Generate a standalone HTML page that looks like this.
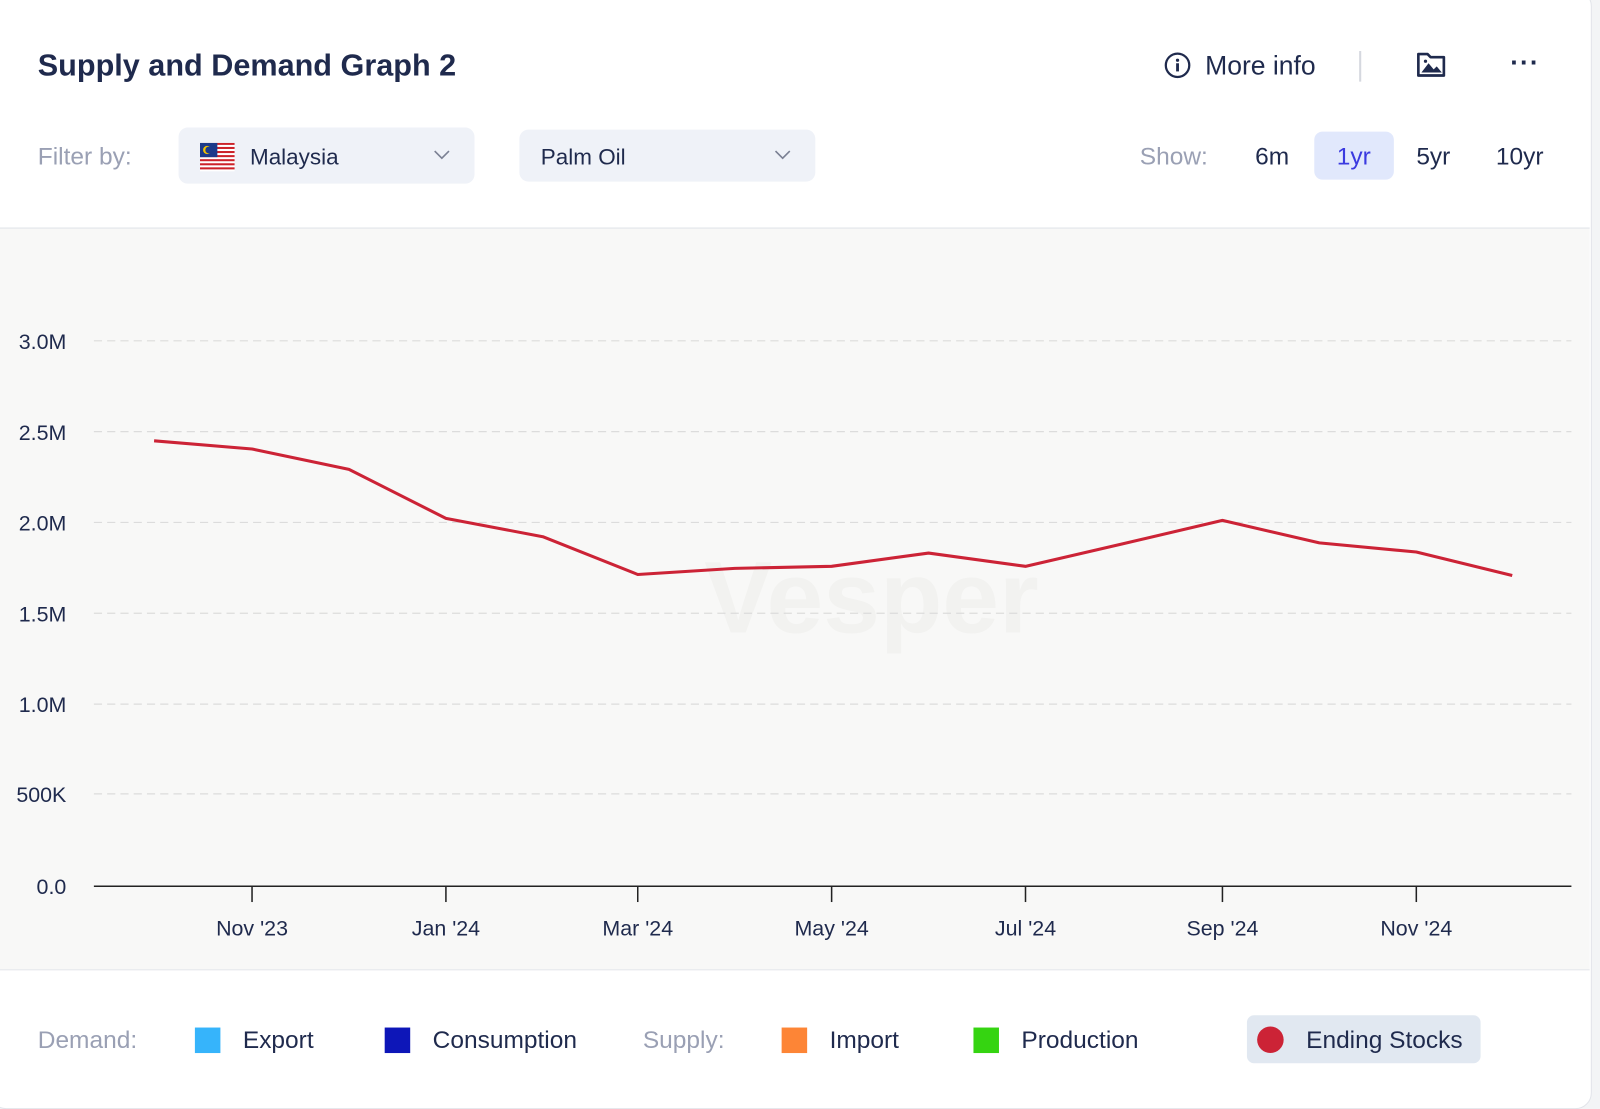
<!DOCTYPE html>
<html><head><meta charset="utf-8"><style>
body{margin:0;width:1600px;height:1108px;background:#f3f4f6;font-family:"Liberation Sans",sans-serif;position:relative;overflow:hidden}
#w{position:absolute;left:0;top:0;width:1568px;height:1086px;transform:scale(1.0204);transform-origin:0 0}
.card{position:absolute;left:-10px;top:-10px;width:1568px;height:1095px;background:#fff;border:1px solid #e2e4ea;border-radius:16px;overflow:hidden}
.t{position:absolute;white-space:nowrap}
</style></head><body><div id="w">
<div class="card"></div>
<div class="t" style="left:37px;top:48px;font-size:30px;font-weight:bold;color:#1f2a4d">Supply and Demand Graph 2</div>
<svg class="t" style="left:1140px;top:50px" width="28" height="28"><circle cx="14" cy="14" r="11.5" fill="none" stroke="#1f2a4d" stroke-width="2.2"/><circle cx="14" cy="9" r="1.6" fill="#1f2a4d"/><rect x="12.6" y="12" width="2.8" height="8" fill="#1f2a4d"/></svg>
<div class="t" style="left:1181px;top:49px;font-size:26px;color:#1f2a4d">More info</div>
<div class="t" style="left:1332px;top:50px;width:2px;height:30px;background:#d5d8df"></div>
<svg class="t" style="left:1387px;top:48px" width="32" height="30"><path d="M3 5h9l3 3h13v18H3z" fill="none" stroke="#1f2a4d" stroke-width="2.6" stroke-linejoin="round"/><path d="M6 23l7-9 5 6 3-3 5 6z" fill="#1f2a4d"/><circle cx="10" cy="12" r="1.6" fill="#1f2a4d"/></svg>
<div class="t" style="left:1480px;top:46px;font-size:26px;color:#1f2a4d;font-weight:bold;letter-spacing:1px">···</div>
<div class="t" style="left:37px;top:140px;font-size:24px;color:#9aa0b4">Filter by:</div>
<div class="t" style="left:175px;top:125px;width:290px;height:55px;background:#eff2f8;border-radius:9px"></div>
<svg class="t" style="left:196px;top:140px" width="34" height="28"><rect width="34" height="28" fill="#fff"/><g fill="#cc2229"><rect y="0" width="34" height="2"/><rect y="4" width="34" height="2"/><rect y="8" width="34" height="2"/><rect y="12" width="34" height="2"/><rect y="16" width="34" height="2"/><rect y="20" width="34" height="2"/><rect y="24" width="34" height="2"/></g><rect width="17" height="14" fill="#1c3a8a"/><circle cx="7" cy="7" r="4" fill="#f2c200"/><circle cx="8.5" cy="7" r="3.3" fill="#1c3a8a"/></svg>
<div class="t" style="left:245px;top:141px;font-size:22px;color:#1f2a4d">Malaysia</div>
<svg class="t" style="left:424px;top:145px" width="18" height="12"><path d="M2 3l7 7 7-7" fill="none" stroke="#7b8194" stroke-width="1.6"/></svg>
<div class="t" style="left:509px;top:127px;width:290px;height:51px;background:#eff2f8;border-radius:9px"></div>
<div class="t" style="left:530px;top:141px;font-size:22px;color:#1f2a4d">Palm Oil</div>
<svg class="t" style="left:758px;top:145px" width="18" height="12"><path d="M2 3l7 7 7-7" fill="none" stroke="#7b8194" stroke-width="1.6"/></svg>
<div class="t" style="left:1117px;top:140px;font-size:24px;color:#9aa0b4">Show:</div>
<div class="t" style="left:1230px;top:140px;font-size:24px;color:#1f2a4d">6m</div>
<div class="t" style="left:1288px;top:129px;width:78px;height:47px;background:#e1e8fc;border-radius:8px"></div>
<div class="t" style="left:1310px;top:140px;font-size:24px;color:#3b3ae0">1yr</div>
<div class="t" style="left:1388px;top:140px;font-size:24px;color:#1f2a4d">5yr</div>
<div class="t" style="left:1466px;top:140px;font-size:24px;color:#1f2a4d">10yr</div>
<svg class="t" style="left:0;top:223px" width="1558" height="728"><rect width="1558" height="728" fill="#f8f8f7"/><line x1="0" y1="0.5" x2="1558" y2="0.5" stroke="#e2e4ea"/><line x1="0" y1="727.5" x2="1558" y2="727.5" stroke="#e2e4ea"/></svg>
<svg class="t" style="left:0;top:0" width="1568" height="1086" font-family="Liberation Sans" font-size="21" fill="#1f2a4d">
<text x="690" y="620" font-size="100" font-weight="bold" fill="#f2f2f0">Vesper</text>
<g stroke="#dcdcdc" stroke-dasharray="8,5" stroke-width="1.2">
<line x1="92" y1="334" x2="1540" y2="334"/><line x1="92" y1="423" x2="1540" y2="423"/><line x1="92" y1="512" x2="1540" y2="512"/><line x1="92" y1="601" x2="1540" y2="601"/><line x1="92" y1="690" x2="1540" y2="690"/><line x1="92" y1="778" x2="1540" y2="778"/></g>
<line x1="92" y1="868.5" x2="1540" y2="868.5" stroke="#222" stroke-width="1.5"/>
<g stroke="#222" stroke-width="1.5"><line x1="247" y1="868" x2="247" y2="884"/><line x1="437" y1="868" x2="437" y2="884"/><line x1="625" y1="868" x2="625" y2="884"/><line x1="815" y1="868" x2="815" y2="884"/><line x1="1005" y1="868" x2="1005" y2="884"/><line x1="1198" y1="868" x2="1198" y2="884"/><line x1="1388" y1="868" x2="1388" y2="884"/></g>
<g text-anchor="end"><text x="65" y="342">3.0M</text><text x="65" y="431">2.5M</text><text x="65" y="520">2.0M</text><text x="65" y="609">1.5M</text><text x="65" y="698">1.0M</text><text x="65" y="786">500K</text><text x="65" y="876">0.0</text></g>
<g text-anchor="middle"><text x="247" y="917">Nov '23</text><text x="437" y="917">Jan '24</text><text x="625" y="917">Mar '24</text><text x="815" y="917">May '24</text><text x="1005" y="917">Jul '24</text><text x="1198" y="917">Sep '24</text><text x="1388" y="917">Nov '24</text></g>
<polyline fill="none" stroke="#cc2336" stroke-width="3" stroke-linejoin="round" points="151,432 247,440 342,460 437,508 532,526 625,563 720,557 815,555 910,542 1005,555 1100,533 1198,510 1293,532 1388,541 1482,564"/>
</svg>
<div class="t" style="left:37px;top:1006px;font-size:24px;color:#9aa0b4">Demand:</div>
<div class="t" style="left:191px;top:1007px;width:25px;height:25px;background:#36b4fb"></div>
<div class="t" style="left:238px;top:1006px;font-size:24px;color:#1f2a4d">Export</div>
<div class="t" style="left:377px;top:1007px;width:25px;height:25px;background:#0d16b8"></div>
<div class="t" style="left:424px;top:1006px;font-size:24px;color:#1f2a4d">Consumption</div>
<div class="t" style="left:630px;top:1006px;font-size:24px;color:#9aa0b4">Supply:</div>
<div class="t" style="left:766px;top:1007px;width:25px;height:25px;background:#fd8536"></div>
<div class="t" style="left:813px;top:1006px;font-size:24px;color:#1f2a4d">Import</div>
<div class="t" style="left:954px;top:1007px;width:25px;height:25px;background:#35d411"></div>
<div class="t" style="left:1001px;top:1006px;font-size:24px;color:#1f2a4d">Production</div>
<div class="t" style="left:1222px;top:995px;width:229px;height:47px;background:#e1e8f1;border-radius:7px"></div>
<div class="t" style="left:1232px;top:1006px;width:26px;height:26px;background:#cc2336;border-radius:50%"></div>
<div class="t" style="left:1280px;top:1006px;font-size:24px;color:#1f2a4d">Ending Stocks</div>
</div></body></html>
